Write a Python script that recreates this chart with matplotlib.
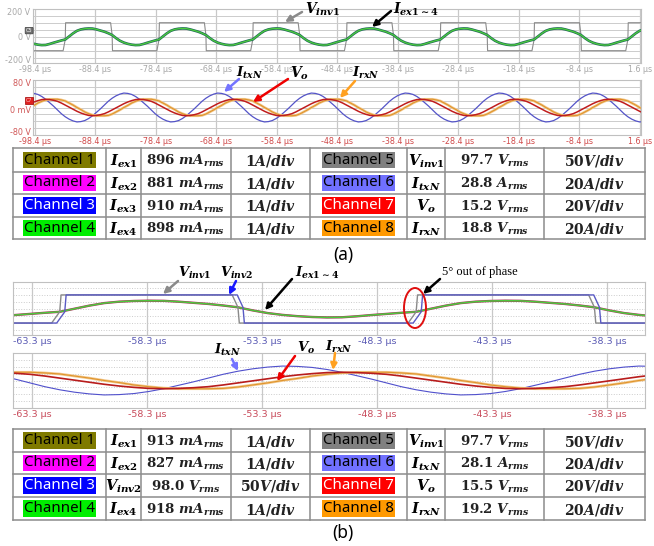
import numpy as np
import matplotlib.pyplot as plt
from matplotlib.patches import Ellipse

plt.rcParams['mathtext.fontset'] = 'custom'
plt.rcParams['mathtext.it'] = 'DejaVu Serif:italic:bold'
plt.rcParams['mathtext.rm'] = 'DejaVu Serif:bold'
plt.rcParams['mathtext.bf'] = 'DejaVu Serif:bold'

W, H = 654, 546

# ---- scope data ------------------------------------------------------------
# switching period (us) and one period of each trace, read every T/24
# starting at the V_inv1 rising edge (screen volts)
T_US = 15.5
i_ex = [-20, 2, 24, 42, 52, 57, 59, 58, 52, 44, 36, 25,
        12, -10, -29, -42, -51, -57, -60, -59, -52, -43, -35, -27]
i_txn = [-27, -34, -39, -42, -41, -38, -32, -24, -14, -4, 7, 18,
         27, 34, 39, 42, 41, 38, 32, 24, 14, 4, -7, -18]
v_o = [7, 1, -5, -11, -16, -20, -23, -24, -23, -21, -18, -13,
       -7, -1, 5, 11, 16, 20, 23, 24, 23, 21, 18, 13]
i_rxn = [19, 13, 7, 0, -6, -13, -18, -22, -24, -24, -24, -23,
         -19, -13, -7, 0, 6, 13, 18, 22, 24, 24, 24, 22]
# inverter square voltage: corner times (us) in one period and levels
vinv_t = [0.0, 0.06, 7.50, 7.75, 7.81, 15.15]
vinv_v = [-20, 100, 100, 12, -100, -100]
vinv2_lag = 0.22          # 5 deg between the two inverters
edge_a = -93.4            # first rising edge in capture (a)
edge_b = -62.1            # first rising edge in capture (b)

ticks_a = np.round(np.arange(-98.4, 2.0, 10), 1)
ticks_b = np.round(np.arange(-63.3, -38.0, 5), 1)

# ---- tables ----------------------------------------------------------------
ch_names = ['Channel 1', 'Channel 2', 'Channel 3', 'Channel 4',
            'Channel 5', 'Channel 6', 'Channel 7', 'Channel 8']
ch_colors = ['#7f7a00', '#ff00ff', '#0000ff', '#00ee00',
             '#808080', '#7070ff', '#ff0000', '#ff9900']
ch_text = ['k', 'k', 'w', 'k', 'k', 'k', 'w', 'k']
sig_a = [r'$I_{ex1}$', r'$I_{ex2}$', r'$I_{ex3}$', r'$I_{ex4}$',
         r'$V_{inv1}$', r'$I_{txN}$', r'$V_o$', r'$I_{rxN}$']
val_a = [r'896 $mA_{rms}$', r'881 $mA_{rms}$', r'910 $mA_{rms}$', r'898 $mA_{rms}$',
         r'97.7 $V_{rms}$', r'28.8 $A_{rms}$', r'15.2 $V_{rms}$', r'18.8 $V_{rms}$']
div_a = [r'$1A/div$', r'$1A/div$', r'$1A/div$', r'$1A/div$',
         r'$50V/div$', r'$20A/div$', r'$20V/div$', r'$20A/div$']
sig_b = [r'$I_{ex1}$', r'$I_{ex2}$', r'$V_{inv2}$', r'$I_{ex4}$',
         r'$V_{inv1}$', r'$I_{txN}$', r'$V_o$', r'$I_{rxN}$']
val_b = [r'913 $mA_{rms}$', r'827 $mA_{rms}$', r'98.0 $V_{rms}$', r'918 $mA_{rms}$',
         r'97.7 $V_{rms}$', r'28.1 $A_{rms}$', r'15.5 $V_{rms}$', r'19.2 $V_{rms}$']
div_b = [r'$1A/div$', r'$1A/div$', r'$50V/div$', r'$1A/div$',
         r'$50V/div$', r'$20A/div$', r'$20V/div$', r'$20A/div$']


def periodic(t0, t_off, vals, lo, hi):
    ks = np.arange(np.floor((lo - t0) / T_US) - 1, np.ceil((hi - t0) / T_US) + 1)
    t = np.concatenate([t0 + k * T_US + np.asarray(t_off) for k in ks])
    return t, np.tile(vals, len(ks))


fig = plt.figure(figsize=(W / 100, H / 100), dpi=100)


def px_axes(x0, y0, x1, y1):
    return fig.add_axes([x0 / W, 1 - y1 / H, (x1 - x0) / W, (y1 - y0) / H])


def scope(box, xlim, ylim, ticks, hlines, lab_col, fs, ls):
    ax = px_axes(*box)
    ax.set_xlim(xlim)
    ax.set_ylim(ylim)
    ax.set_xticks(ticks)
    ax.set_xticklabels([f'{t:g} µs' for t in ticks], color=lab_col, fontsize=fs)
    ax.set_yticks(hlines)
    ax.set_yticklabels([])
    ax.tick_params(length=0, pad=1.5)
    ax.grid(axis='x', color='#c8c8c8', lw=0.9)
    ax.grid(axis='y', color='#cccccc', lw=0.7, ls=ls)
    for s in ax.spines.values():
        s.set_color('#c0c0c0')
        s.set_linewidth(0.8)
    return ax


samp = np.arange(len(i_ex)) * T_US / len(i_ex)

# ---- (a) scopes ------------------------------------------------------------
xa = (-98.73, 1.77)
ax1 = scope((33, 9, 641, 63), xa, (-188, 198), ticks_a,
            [-150, -100, -50, 0, 50, 100, 150], '#a8a8a8', 5.8, '-')
t, v = periodic(edge_a, vinv_t, vinv_v, *xa)
ax1.plot(t, v, color='#8c8c8c', lw=0.8)
t, v = periodic(edge_a, samp, i_ex, *xa)
ax1.plot(t, v, color='#1f6a58', lw=1.9)
ax1.plot(t, v, color='#4ccc3c', lw=0.9)
for txt, fr in [('200 V', 0.93), ('0 V', 0.47), ('-200 V', 0.04)]:
    ax1.text(-0.004, fr, txt, transform=ax1.transAxes, ha='right', va='center',
             fontsize=5.8, color='#a8a8a8')
ax1.text(-0.001, 0.6, 'C5', transform=ax1.transAxes, ha='right', va='center', fontsize=3.5,
         color='w', bbox=dict(boxstyle='round,pad=0.15', fc='#707070', ec='#404040', lw=0.5))

ax2 = scope((33, 80, 641, 135), xa, (-80, 80), ticks_a,
            [-60, -40, -20, 0, 20, 40, 60], '#d04a4a', 5.8, '-')
t, v = periodic(edge_a, samp, i_txn, *xa)
ax2.plot(t, v, color='#5454c8', lw=0.9)
t, v = periodic(edge_a, samp, i_rxn, *xa)
ax2.plot(t, v, color='#f2c88e', lw=1.9)
ax2.plot(t, v, color='#e0952c', lw=0.8)
t, v = periodic(edge_a, samp, v_o, *xa)
ax2.plot(t, v, color='#c01c1c', lw=1.1)
for txt, fr in [('80 V', 0.93), ('0 mV', 0.44), ('-80 V', 0.05)]:
    ax2.text(-0.004, fr, txt, transform=ax2.transAxes, ha='right', va='center',
             fontsize=5.8, color='#d05858')
ax2.text(-0.001, 0.62, 'C7', transform=ax2.transAxes, ha='right', va='center', fontsize=3.5,
         color='#ffd0d0', bbox=dict(boxstyle='square,pad=0.2', fc='#e02020', ec='#a00000', lw=0.5))

# ---- (b) scopes ------------------------------------------------------------
xb = (-64.13, -36.65)
ax3 = scope((13, 282, 645, 335), xb, (-185, 192), ticks_b,
            [-150, -100, -50, 0, 50, 100, 150], '#5a5ab4', 6.8, ':')
t, v = periodic(edge_b, samp, i_ex, *xb)
ax3.plot(t, v, color='#b03060', lw=1.7)
ax3.plot(t, v, color='#4cc83c', lw=1.1)
t, v = periodic(edge_b, vinv_t, vinv_v, *xb)
ax3.plot(t, v, color='#8a8a8a', lw=1.0)
t, v = periodic(edge_b + vinv2_lag, vinv_t, vinv_v, *xb)
ax3.plot(t, v, color='#5a5ac4', lw=1.0)

ax4 = scope((13, 353, 645, 408), xb, (-80, 80), ticks_b,
            [-60, -40, -20, 0, 20, 40, 60], '#c84a5a', 6.8, ':')
t, v = periodic(edge_b, samp, i_txn, *xb)
ax4.plot(t, v, color='#5050cc', lw=0.8)
t, v = periodic(edge_b, samp, i_rxn, *xb)
ax4.plot(t, v, color='#f2c88e', lw=1.9)
ax4.plot(t, v, color='#e0952c', lw=0.8)
t, v = periodic(edge_b, samp, v_o, *xb)
ax4.plot(t, v, color='#b81c1c', lw=1.2)

# ---- overlay in pixel units: tables, labels, arrows ---------------------------
ov = fig.add_axes([0, 0, 1, 1])
ov.set_xlim(0, W)
ov.set_ylim(H, 0)
ov.axis('off')
ov.patch.set_alpha(0)

cols = [13, 106, 141, 231, 310, 407, 445, 544, 645]


def table(rows, sig, val, div):
    for y in rows:
        ov.plot([cols[0], cols[-1]], [y, y], color='#8c8c8c', lw=1.1)
    for x in cols:
        ov.plot([x, x], [rows[0], rows[-1]], color='#8c8c8c', lw=1.1)
    for r in range(4):
        yc = (rows[r] + rows[r + 1]) / 2
        for half in range(2):
            i = r + 4 * half
            c0 = 4 * half
            xc = [(cols[c0 + j] + cols[c0 + j + 1]) / 2 for j in range(4)]
            ov.text(xc[0], yc, ch_names[i], ha='center', va='center', fontsize=10.8,
                    family='Noto Sans', weight='semibold', color=ch_text[i],
                    bbox=dict(boxstyle='square,pad=0.05', fc=ch_colors[i], ec='none'))
            ov.text(xc[1], yc + 1, sig[i], ha='center', va='center', fontsize=10.5)
            ov.text(xc[2], yc + 1, val[i], ha='center', va='center', fontsize=9.6,
                    family='DejaVu Serif', weight='bold', color='#222222')
            ov.text(xc[3], yc + 1, div[i], ha='center', va='center', fontsize=10,
                    color='#222222')


table([148, 172, 194, 217, 239], sig_a, val_a, div_a)
table([429, 452, 474, 497, 520], sig_b, val_b, div_b)
ov.text(343, 255, '(a)', ha='center', va='center', fontsize=12.5, family='Noto Sans',
        weight='semibold')
ov.text(343, 533, '(b)', ha='center', va='center', fontsize=12.5, family='Noto Sans',
        weight='semibold')


def note(txt, x, y, tail, tip, col, fs=10, **kw):
    ov.text(x, y, txt, ha='left', va='center', fontsize=fs, **kw)
    ov.annotate('', xy=tip, xytext=tail,
                arrowprops=dict(arrowstyle='-|>', color=col, lw=1.8, mutation_scale=9,
                                shrinkA=0, shrinkB=0))


note(r'$V_{inv1}$', 305, 9, (302, 12), (285, 22), '#8a8a8a')
note(r'$I_{ex1\sim4}$', 393, 9, (391, 11), (372, 27), 'k')
note(r'$I_{txN}$', 236, 73, (239, 79), (224, 92), '#7474ff', fs=9.5)
note(r'$V_o$', 290, 73, (288, 79), (253, 102), '#ee0000')
note(r'$I_{rxN}$', 352, 73, (355, 81), (340, 98), '#ffa020', fs=9.5)

note(r'$V_{inv1}$', 178, 273, (178, 281), (163, 294), '#8a8a8a', fs=9.5)
note(r'$V_{inv2}$', 220, 273, (236, 281), (229, 295), '#1a1aff', fs=9.5)
note(r'$I_{ex1\sim4}$', 295, 273, (292, 279), (265, 310), 'k', fs=9.5)
note('5° out of phase', 442, 272, (440, 279), (423, 294), 'k', fs=9,
     family='Liberation Serif')
ov.add_patch(Ellipse((415, 308), 22, 40, fill=False, ec='#e01010', lw=1.4))
note(r'$I_{txN}$', 214, 350, (232, 359), (238, 371), '#7474ff', fs=9.5)
note(r'$V_o$', 297, 348, (295, 356), (277, 381), '#ee0000', fs=9.5)
note(r'$I_{rxN}$', 325, 347, (335, 353), (333, 370), '#ffa020', fs=9.5)

fig.savefig('out.png', dpi=100)
